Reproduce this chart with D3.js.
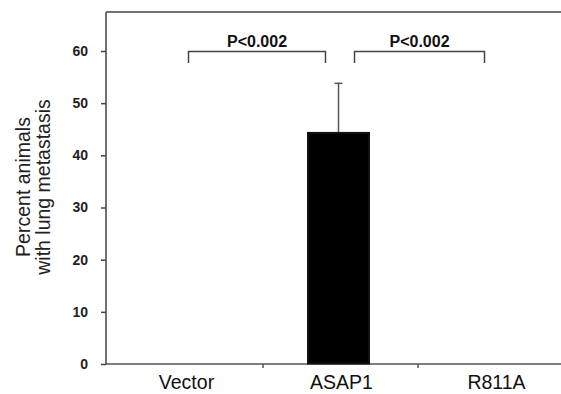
<!DOCTYPE html>
<head>
  <meta charset="utf-8">
  <script src="https://d3js.org/d3.v7.min.js"></script>
  <style>
    body { margin: 0; background: #fff; font-family: "Liberation Sans", Arial, sans-serif; }
    .y.axis text { font-size: 14px; font-weight: bold; fill: #222; }
    .y.axis path, .y.axis line { stroke: #444; stroke-width: 1.5; }
  </style>
</head>
<body>
  <script>
    var groups = ["Vector", "ASAP1", "R811A"];
    var percent = [0, 44.2, 0];
    var errUp = [0, 9.6, 0];
    var yTicks = [0, 10, 20, 30, 40, 50, 60];
    var comparisons = [["Vector", "ASAP1", "P<0.002"], ["ASAP1", "R811A", "P<0.002"]];

    var W = 561, H = 394;
    var svg = d3.select("body").append("svg").attr("width", W).attr("height", H);

    var x = d3.scaleBand().domain(groups).range([107, 572]).padding(0);
    var y = d3.scaleLinear().domain([0, 60]).range([364, 51]);
    var barW = 61;

    // frame: top line, left line, x axis line
    svg.append("line").attr("x1", 106).attr("x2", W).attr("y1", y(67.5)).attr("y2", y(67.5))
      .attr("stroke", "#444").attr("stroke-width", 1.5);
    svg.append("line").attr("x1", 106).attr("x2", W).attr("y1", y(0)).attr("y2", y(0))
      .attr("stroke", "#555").attr("stroke-width", 1.5);
    svg.append("line").attr("x1", 106).attr("x2", 106).attr("y1", y(67.5)).attr("y2", y(0))
      .attr("stroke", "#444").attr("stroke-width", 1.5);

    var ya = svg.append("g").attr("class", "y axis").attr("transform", "translate(106,0)")
      .call(d3.axisLeft(y).tickValues(yTicks).tickSize(5).tickPadding(13));
    ya.select(".domain").remove();

    // x tick marks between groups
    svg.selectAll(".xtick").data(groups.slice(1)).enter().append("line")
      .attr("x1", function (d) { return x(d) + 1; }).attr("x2", function (d) { return x(d) + 1; })
      .attr("y1", y(0)).attr("y2", y(0) + 4)
      .attr("stroke", "#555").attr("stroke-width", 1.5);

    svg.selectAll(".xlab").data(groups).enter().append("text")
      .attr("x", function (d) { return x(d) + x.bandwidth() / 2 + 2; })
      .attr("y", 389)
      .attr("text-anchor", "middle")
      .style("font-size", "19.5px").style("fill", "#111")
      .text(function (d) { return d; });

    // error bars
    svg.selectAll(".err").data(groups).enter().append("g")
      .filter(function (d, i) { return errUp[i] > 0; })
      .each(function (d) {
        var i = groups.indexOf(d), cx = x(d) + x.bandwidth() / 2 - 1;
        var g = d3.select(this);
        g.append("line").attr("x1", cx).attr("x2", cx)
          .attr("y1", y(percent[i])).attr("y2", y(percent[i] + errUp[i]))
          .attr("stroke", "#555").attr("stroke-width", 1.5);
        g.append("line").attr("x1", cx - 4).attr("x2", cx + 4)
          .attr("y1", y(percent[i] + errUp[i])).attr("y2", y(percent[i] + errUp[i]))
          .attr("stroke", "#555").attr("stroke-width", 1.5);
      });

    // bars (zero bars show as a dark line on the axis)
    svg.selectAll(".bar").data(groups).enter().append("rect")
      .attr("x", function (d) { return x(d) + x.bandwidth() / 2 - barW / 2 - 1; })
      .attr("width", barW)
      .attr("y", function (d, i) { return y(percent[i]) - 0.5; })
      .attr("height", function (d, i) { return y(0) - y(percent[i]); })
      .attr("fill", "#000").attr("stroke", "#111").attr("stroke-width", 2);

    // significance brackets
    var br = svg.selectAll(".br").data(comparisons).enter().append("g");
    br.each(function (d, k) {
      var x1 = x(d[0]) + x.bandwidth() / 2 + (k === 0 ? 4 : 15);
      var x2 = x(d[1]) + x.bandwidth() / 2 - (k === 0 ? 14 : 10);
      var g = d3.select(this);
      g.append("path")
        .attr("d", "M" + x1 + "," + y(57.7) + "V" + y(59.9) + "H" + x2 + "V" + y(57.7))
        .attr("fill", "none").attr("stroke", "#444").attr("stroke-width", 1.5);
      g.append("text").attr("x", (x1 + x2) / 2).attr("y", 47)
        .attr("text-anchor", "middle")
        .style("font-size", "16px").style("font-weight", "bold").style("fill", "#111")
        .text(d[2]);
    });

    // y axis title
    svg.append("text")
      .attr("transform", "translate(30,187) rotate(-90)")
      .attr("text-anchor", "middle")
      .style("font-size", "19.5px").style("fill", "#222")
      .selectAll("tspan").data(["Percent animals", "with lung metastasis"]).enter().append("tspan")
      .attr("x", 0).attr("dy", function (d, i) { return i === 0 ? 0 : 20; })
      .text(function (d) { return d; });
  </script>
</body>
